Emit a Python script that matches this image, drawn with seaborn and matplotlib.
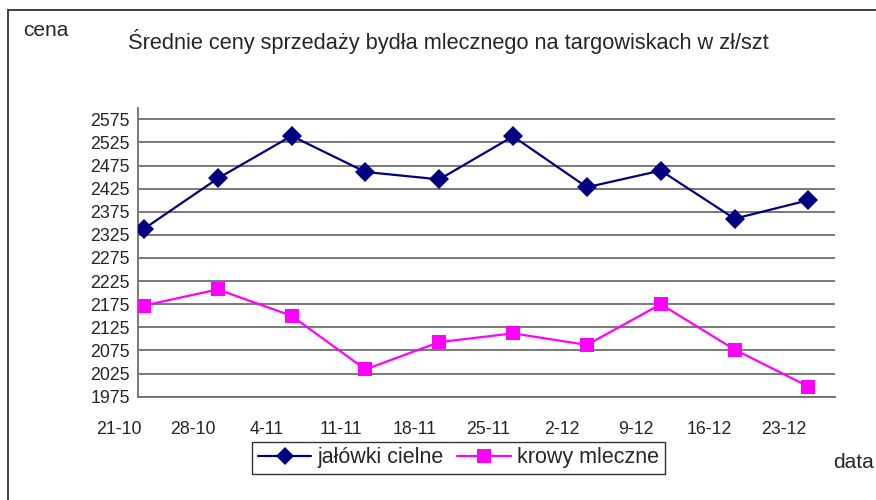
import numpy as np
import pandas as pd
import matplotlib
matplotlib.use("Agg")
import matplotlib.pyplot as plt
import matplotlib.transforms as mtransforms
import seaborn as sns
from matplotlib.patches import Rectangle

dates = ["21-10", "28-10", "4-11", "11-11", "18-11", "25-11", "2-12", "9-12", "16-12", "23-12"]
jalowki = [2338, 2447, 2539, 2461, 2445, 2538, 2428, 2464, 2360, 2400]
krowy = [2172, 2207, 2150, 2034, 2093, 2112, 2087, 2175, 2077, 1997]
yticks = list(range(1975, 2576, 50))

sns.set_style("white")
plt.rcParams['font.family'] = ['Liberation Sans', 'DejaVu Sans']

pos = np.arange(len(dates))
df = pd.concat([
    pd.DataFrame({"x": pos, "cena": jalowki, "seria": "jałówki cielne"}),
    pd.DataFrame({"x": pos, "cena": krowy, "seria": "krowy mleczne"}),
])

fig = plt.figure(figsize=(8.76, 5), dpi=100)
ax = fig.add_axes([138 / 876, 103.3 / 500, 697 / 876, 289 / 500])

sns.lineplot(data=df, x="x", y="cena", hue="seria", style="seria",
             palette={"jałówki cielne": "#000080", "krowy mleczne": "#FF00FF"},
             markers={"jałówki cielne": "D", "krowy mleczne": "s"},
             dashes=False, markersize=10, linewidth=1.6, markeredgewidth=0,
             ax=ax, legend=False, zorder=3)

ax.set_yticks(yticks)
ax.set_yticklabels([str(v) for v in yticks], fontsize=12.8)
ax.yaxis.grid(True, color="#6e6e6e", linewidth=1.3)
ax.set_axisbelow(True)

# tick marks sit slightly left of the points, labels shifted further left
ax.set_xticks(pos - 0.08)
ax.set_xticklabels(dates, fontsize=12.8)
ax.tick_params(axis="x", direction="out", length=4.5, width=1, color="#333333", pad=13)
ax.tick_params(axis="y", direction="out", length=4, width=1, color="#333333", pad=2)
shift = mtransforms.ScaledTranslation(-0.19, 0, fig.dpi_scale_trans)
for tick in ax.xaxis.get_major_ticks():
    tick.label1.set_transform(tick.label1.get_transform() + shift)

ax.set_xlim(-0.08, 9.36)
ax.set_ylim(1975, 2600)

for side in ["top", "right"]:
    ax.spines[side].set_visible(False)
ax.spines["left"].set_color("#6e6e6e")
ax.spines["bottom"].set_color("#6e6e6e")
ax.spines["left"].set_linewidth(1.3)
ax.spines["bottom"].set_linewidth(1.3)
ax.set_xlabel("")
ax.set_ylabel("")

handles = [
    plt.Line2D([], [], color="#000080", marker="D", markersize=9, linewidth=1.6, markeredgewidth=0),
    plt.Line2D([], [], color="#FF00FF", marker="s", markersize=10, linewidth=1.6, markeredgewidth=0),
]
leg = fig.legend(handles, ["jałówki cielne", "krowy mleczne"], loc="center",
                 bbox_to_anchor=(458.5 / 876, 42 / 500), bbox_transform=fig.transFigure,
                 ncol=2, fontsize=15.5, frameon=True, fancybox=False, shadow=False,
                 handlelength=2.5, handletextpad=0.3, columnspacing=0.6,
                 borderpad=0.25, borderaxespad=0)
leg.get_frame().set_edgecolor("black")
leg.get_frame().set_linewidth(1)

fig.text(23 / 876, 1 - 31 / 500, "cena", fontsize=15, va="center", ha="left")
fig.text(448 / 876, 1 - 41 / 500, "Średnie ceny sprzedaży bydła mlecznego na targowiskach w zł/szt",
         fontsize=15.7, va="center", ha="center")
fig.text(833 / 876, 1 - 463 / 500, "data", fontsize=15, va="center", ha="left")

fig.patches.append(Rectangle((8 / 876, -0.1), 1.1, 1 - 10 / 500 + 0.1, transform=fig.transFigure,
                             fill=False, edgecolor="#333333", linewidth=1.3))

fig.savefig("out.png", dpi=100)
